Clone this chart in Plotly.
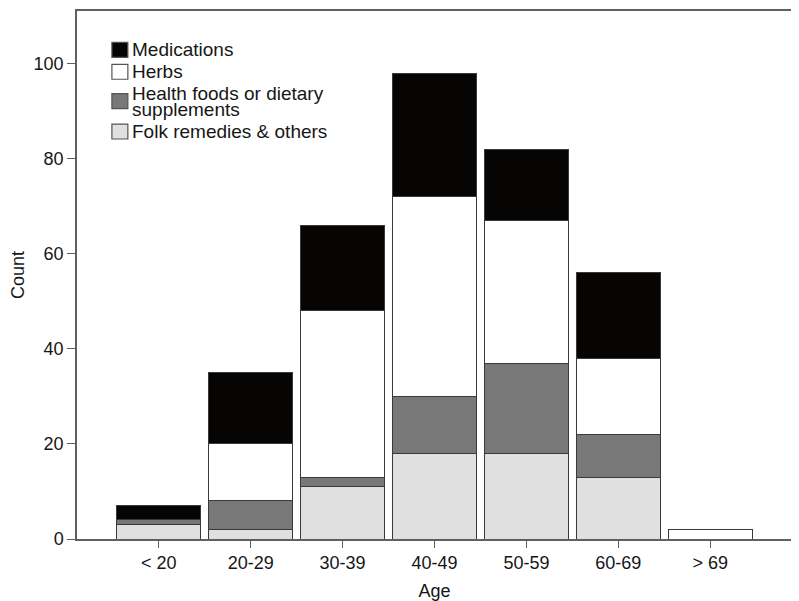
import plotly.graph_objects as go

age_groups = ["< 20", "20-29", "30-39", "40-49", "50-59", "60-69", "> 69"]
folk = [3, 2, 11, 18, 18, 13, 0]
health = [1, 6, 2, 12, 19, 9, 0]
herbs = [0, 12, 35, 42, 30, 16, 2]
medications = [3, 15, 18, 26, 15, 18, 0]

series_names = ["Folk remedies & others", "Health foods or dietary supplements", "Herbs", "Medications"]
series_values = [folk, health, herbs, medications]
series_colors = ["#e0e0e0", "#787878", "#ffffff", "#070404"]

FONT = "Liberation Sans, Arial, sans-serif"
TXT = "#161616"
W, H = 791, 593
L, R, T, B = 67, 7, 1, 62
PW, PH = W - L - R, H - T - B

fig = go.Figure()
for name, vals, color in zip(series_names, series_values, series_colors):
    fig.add_trace(go.Bar(
        x=age_groups, y=vals, name=name,
        marker=dict(color=color, line=dict(color="#3a3a3a", width=1)),
    ))


def dx(px):
    return (px - L) / PW


def dy(py):
    return 1 - (py - T) / PH


# Legend drawn manually to match the compact reference legend
legend_rows = [
    (3, ["Medications"], 40),
    (2, ["Herbs"], 62),
    (1, ["Health foods or dietary", "supplements"], 91.5),
    (0, ["Folk remedies & others"], 122),
]
shapes = []
annotations = []
for idx, lines, cy in legend_rows:
    shapes.append(dict(
        type="rect", xref="x domain", yref="y domain",
        x0=dx(102), x1=dx(118), y0=dy(cy - 7.5), y1=dy(cy + 7.5),
        fillcolor=series_colors[idx], line=dict(color="#555555", width=1.2),
    ))
    n = len(lines)
    for k, line in enumerate(lines):
        ty = cy + (k - (n - 1) / 2) * 16
        annotations.append(dict(
            xref="x domain", yref="y domain", x=dx(120), y=dy(ty),
            xanchor="left", yanchor="middle", showarrow=False,
            text=line, font=dict(family=FONT, size=19, color=TXT),
        ))

fig.update_layout(
    width=W, height=H,
    margin=dict(l=L, r=R, t=T, b=B),
    barmode="stack", bargap=0.09,
    plot_bgcolor="white", paper_bgcolor="white",
    font=dict(family=FONT, size=18, color=TXT),
    showlegend=False,
    shapes=shapes, annotations=annotations,
)
fig.update_xaxes(
    range=[-0.89, 6.89], showline=True, mirror=True, linecolor="#606060", linewidth=1.5,
    ticks="outside", ticklen=7, tickcolor="#606060",
    title=dict(text="Age", font=dict(size=18), standoff=12),
    tickfont=dict(size=18),
)
fig.update_yaxes(
    range=[0, 111.1], showline=True, mirror=True, linecolor="#606060", linewidth=1.5,
    ticks="outside", ticklen=8, tickcolor="#606060", tickvals=[0, 20, 40, 60, 80, 100],
    showgrid=False, zeroline=False,
    title=dict(text="Count", font=dict(size=18), standoff=12),
    tickfont=dict(size=18),
)
fig.write_html("out.html")
